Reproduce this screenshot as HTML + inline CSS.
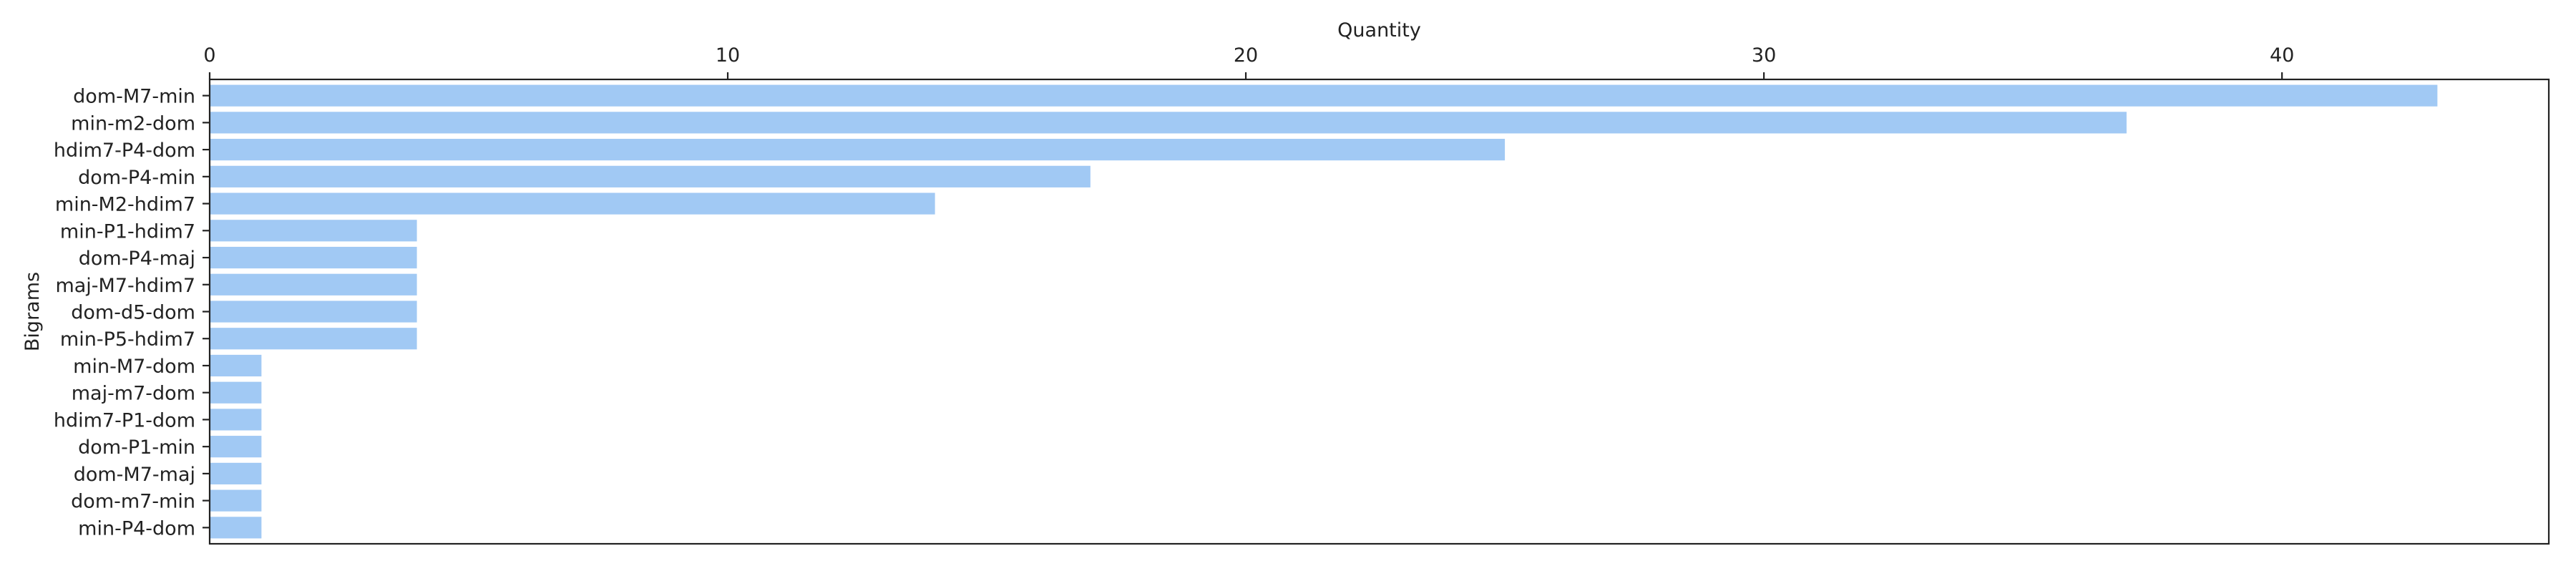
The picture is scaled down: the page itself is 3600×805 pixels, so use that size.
<!DOCTYPE html>
<html><head><meta charset="utf-8"><style>
body{margin:0;background:#fff}
svg text{font-family:"DejaVu Sans","Liberation Sans",sans-serif;font-size:27px;fill:#222}
</style></head><body>
<svg id="chart" width="3600" height="800" xmlns="http://www.w3.org/2000/svg">
<g id="bars"></g>
<g id="axes"></g>
</svg>
<script>
const categories=["dom-M7-min","min-m2-dom","hdim7-P4-dom","dom-P4-min","min-M2-hdim7","min-P1-hdim7","dom-P4-maj","maj-M7-hdim7","dom-d5-dom","min-P5-hdim7","min-M7-dom","maj-m7-dom","hdim7-P1-dom","dom-P1-min","dom-M7-maj","dom-m7-min","min-P4-dom"];
const values=[43,37,25,17,14,4,4,4,4,4,1,1,1,1,1,1,1];
const xTicks=[0,10,20,30,40];
const NS="http://www.w3.org/2000/svg";
const L=293,R=3562,T=111,B=760;
const xmax=Math.max(...values)*1.05;
const n=categories.length;
function xs(v){return L+(v/xmax)*(R-L);}
function ys(i){return T+(i+0.6)/(n+0.2)*(B-T);}
const bh=0.8*(B-T)/(n+0.2);
function mk(tag,attrs,parent){const e=document.createElementNS(NS,tag);for(const k in attrs)e.setAttribute(k,attrs[k]);parent.appendChild(e);return e;}
const bars=document.getElementById('bars'),axes=document.getElementById('axes');
values.forEach((v,i)=>{
 const r=mk('rect',{x:xs(0),y:ys(i)-bh/2,width:xs(v)-xs(0),height:bh,fill:'#a1c9f4'},bars);
 
 
 const t=mk('line',{x1:L-10,x2:L,y1:ys(i),y2:ys(i),stroke:'#222','stroke-width':2.2},axes);
 
 
 const lb=mk('text',{x:L-20,y:ys(i)+10,'text-anchor':'end'},axes);
 lb.textContent=categories[i];
 
 
});
xTicks.forEach(v=>{
 const t=mk('line',{x1:xs(v),x2:xs(v),y1:T-10,y2:T,stroke:'#222','stroke-width':2.2},axes);
 
 
 const lb=mk('text',{x:xs(v),y:86,'text-anchor':'middle'},axes);
 lb.textContent=v;
 
 
});
const fr=mk('rect',{x:L,y:T,width:R-L,height:B-T,fill:'none',stroke:'#222','stroke-width':2.2},axes);


const xl=mk('text',{x:(L+R)/2,y:51,'text-anchor':'middle'},axes);
xl.textContent='Quantity';


const yl=mk('text',{x:0,y:0,'text-anchor':'middle',transform:'translate(54,'+((T+B)/2)+') rotate(-90)'},axes);
yl.textContent='Bigrams';


</script>
</body></html>
